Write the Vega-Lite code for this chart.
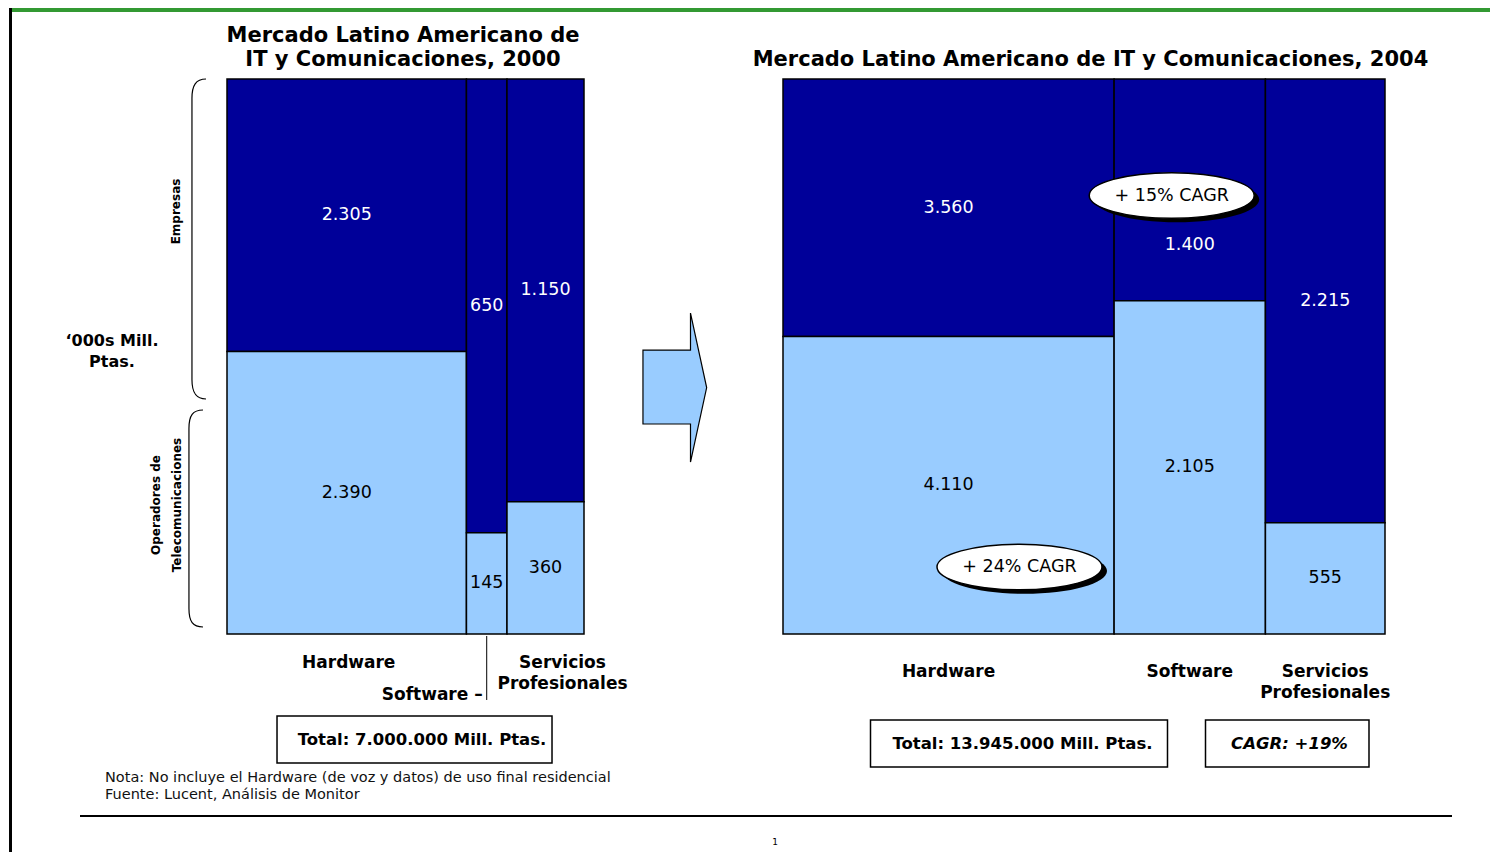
{
  "$schema": "https://vega.github.io/schema/vega-lite/v6.json",
  "background": "white",
  "autosize": {"type": "pad"},
  "padding": {"left": 9, "top": 8, "right": 0, "bottom": 0},
  "bounds": "flush",
  "spacing": 199,
  "config": {
    "view": {"stroke": null},
    "font": "DejaVu Sans",
    "locale": {"number": {"decimal": ",", "thousands": ".", "grouping": [3], "currency": ["", " €"]}}
  },
  "datasets": {
    "market": [
      {"year": 2000, "cat": "Hardware", "catOrder": 1, "seg": "Empresas", "segOrder": 2, "value": 2305},
      {"year": 2000, "cat": "Hardware", "catOrder": 1, "seg": "Operadores de Telecomunicaciones", "segOrder": 1, "value": 2390},
      {"year": 2000, "cat": "Software", "catOrder": 2, "seg": "Empresas", "segOrder": 2, "value": 650},
      {"year": 2000, "cat": "Software", "catOrder": 2, "seg": "Operadores de Telecomunicaciones", "segOrder": 1, "value": 145},
      {"year": 2000, "cat": "Servicios Profesionales", "catOrder": 3, "seg": "Empresas", "segOrder": 2, "value": 1150},
      {"year": 2000, "cat": "Servicios Profesionales", "catOrder": 3, "seg": "Operadores de Telecomunicaciones", "segOrder": 1, "value": 360},
      {"year": 2004, "cat": "Hardware", "catOrder": 1, "seg": "Empresas", "segOrder": 2, "value": 3560},
      {"year": 2004, "cat": "Hardware", "catOrder": 1, "seg": "Operadores de Telecomunicaciones", "segOrder": 1, "value": 4110},
      {"year": 2004, "cat": "Software", "catOrder": 2, "seg": "Empresas", "segOrder": 2, "value": 1400},
      {"year": 2004, "cat": "Software", "catOrder": 2, "seg": "Operadores de Telecomunicaciones", "segOrder": 1, "value": 2105},
      {"year": 2004, "cat": "Servicios Profesionales", "catOrder": 3, "seg": "Empresas", "segOrder": 2, "value": 2215},
      {"year": 2004, "cat": "Servicios Profesionales", "catOrder": 3, "seg": "Operadores de Telecomunicaciones", "segOrder": 1, "value": 555}
    ]
  },
  "hconcat": [
    {
      "width": 357,
      "height": 555,
      "layer": [
        {
          "data": {"name": "market"},
          "transform": [
            {"filter": "datum.year === 2000"},
            {"stack": "value", "groupby": [], "sort": [{"field": "catOrder", "order": "ascending"}, {"field": "segOrder", "order": "ascending"}], "offset": "normalize", "as": ["sx0", "sx1"]},
            {"joinaggregate": [{"op": "min", "field": "sx0", "as": "x0"}, {"op": "max", "field": "sx1", "as": "x1"}], "groupby": ["cat"]},
            {"stack": "value", "groupby": ["cat"], "sort": [{"field": "segOrder", "order": "ascending"}], "offset": "normalize", "as": ["y0", "y1"]},
            {"calculate": "(datum.x0 + datum.x1) / 2", "as": "xm"},
            {"calculate": "(datum.y0 + datum.y1) / 2", "as": "ym"}
          ],
          "layer": [
            {
              "mark": {"type": "rect", "stroke": "black", "strokeWidth": 1.5},
              "encoding": {
                "x": {"field": "x0", "type": "quantitative", "scale": {"domain": [0, 1], "nice": false, "zero": false},
                      "axis": {"values": [0, 0.2, 0.4, 0.6, 0.8, 1], "labels": false, "title": null, "grid": false, "tickSize": 4, "tickColor": "black", "domainColor": "black", "domainWidth": 2}},
                "x2": {"field": "x1"},
                "y": {"field": "y0", "type": "quantitative", "scale": {"domain": [0, 1], "nice": false, "zero": false},
                      "axis": {"values": [0, 0.2, 0.4, 0.6, 0.8, 1], "labels": false, "title": null, "grid": false, "tickSize": 4, "tickColor": "black", "domainColor": "black", "domainWidth": 1.5}},
                "y2": {"field": "y1"},
                "color": {"field": "seg", "type": "nominal", "scale": {"domain": ["Empresas", "Operadores de Telecomunicaciones"], "range": ["#000099", "#99CCFF"]}, "legend": null}
              }
            },
            {
              "mark": {"type": "text", "fontSize": 17.5, "font": "DejaVu Sans"},
              "encoding": {
                "x": {"field": "xm", "type": "quantitative", "axis": null},
                "y": {"field": "ym", "type": "quantitative", "axis": null},
                "text": {"field": "value", "type": "quantitative", "format": ","},
                "color": {"condition": {"test": "datum.seg === 'Empresas'", "value": "white"}, "value": "black"}
              }
            },
            {
              "transform": [{"filter": "datum.seg === 'Empresas' && datum.cat === 'Hardware'"}],
              "mark": {"type": "text", "fontSize": 17, "fontWeight": "bold", "font": "DejaVu Sans", "baseline": "top", "lineBreak": " ", "lineHeight": 21, "color": "black", "dx": 2},
              "encoding": {
                "x": {"field": "xm", "type": "quantitative", "axis": null},
                "y": {"datum": -0.0378, "type": "quantitative", "axis": null},
                "text": {"field": "cat", "type": "nominal"}
              }
            },
            {
              "transform": [{"filter": "datum.seg === 'Empresas' && datum.cat === 'Servicios Profesionales'"}],
              "mark": {"type": "text", "fontSize": 17, "fontWeight": "bold", "font": "DejaVu Sans", "baseline": "top", "lineBreak": " ", "lineHeight": 21, "color": "black", "dx": 17},
              "encoding": {
                "x": {"field": "xm", "type": "quantitative", "axis": null},
                "y": {"datum": -0.0378, "type": "quantitative", "axis": null},
                "text": {"field": "cat", "type": "nominal"}
              }
            },
            {
              "transform": [{"filter": "datum.seg === 'Empresas' && datum.cat === 'Software'"}],
              "mark": {"type": "text", "fontSize": 17, "fontWeight": "bold", "font": "DejaVu Sans", "align": "right", "baseline": "middle", "dx": -4, "color": "black", "text": "Software –"},
              "encoding": {
                "x": {"field": "xm", "type": "quantitative", "axis": null},
                "y": {"datum": -0.1099, "type": "quantitative", "axis": null}
              }
            },
            {
              "transform": [{"filter": "datum.seg === 'Empresas' && datum.cat === 'Software'"}],
              "mark": {"type": "rule", "color": "black", "strokeWidth": 1},
              "encoding": {
                "x": {"field": "xm", "type": "quantitative", "axis": null},
                "y": {"datum": -0.0036, "type": "quantitative", "axis": null},
                "y2": {"datum": -0.1189}
              }
            }
          ]
        },
        {
          "data": {"values": [{"k": 1}]},
          "layer": [
            {
              "mark": {"type": "rect", "color": "black"},
              "encoding": {
                "x": {"datum": -0.6106, "type": "quantitative", "axis": null}, "x2": {"datum": -0.60224},
                "y": {"datum": 1.1279, "type": "quantitative", "axis": null}, "y2": {"datum": -0.3927}
              }
            },
            {
              "mark": {"type": "rect", "color": "#339933"},
              "encoding": {
                "x": {"datum": -0.60224, "type": "quantitative", "axis": null}, "x2": {"datum": 3.5378},
                "y": {"datum": 1.1279, "type": "quantitative", "axis": null}, "y2": {"datum": 1.12072}
              }
            },
            {
              "mark": {"type": "rect", "color": "black"},
              "encoding": {
                "x": {"datum": -0.41176, "type": "quantitative", "axis": null}, "x2": {"datum": 3.43137},
                "y": {"datum": -0.32613, "type": "quantitative", "axis": null}, "y2": {"datum": -0.32973}
              }
            },
            {
              "mark": {"type": "text", "text": "1", "fontSize": 9, "font": "DejaVu Sans", "color": "black"},
              "encoding": {"x": {"datum": 1.53501, "type": "quantitative", "axis": null}, "y": {"datum": -0.37477, "type": "quantitative", "axis": null}}
            },
            {
              "mark": {"type": "text", "text": ["Nota: No incluye el Hardware (de voz y datos) de uso final residencial", "Fuente: Lucent, Análisis de Monitor"], "fontSize": 14.5, "font": "DejaVu Sans", "align": "left", "baseline": "middle", "lineHeight": 17, "color": "#111111"},
              "encoding": {"x": {"datum": -0.34174, "type": "quantitative", "axis": null}, "y": {"datum": -0.25946, "type": "quantitative", "axis": null}}
            },
            {
              "mark": {"type": "text", "text": ["Mercado Latino Americano de", "IT y Comunicaciones, 2000"], "fontSize": 21, "fontWeight": "bold", "font": "DejaVu Sans", "align": "center", "baseline": "middle", "lineHeight": 24, "color": "black"},
              "encoding": {"x": {"datum": 0.493, "type": "quantitative", "axis": null}, "y": {"datum": 1.07748, "type": "quantitative", "axis": null}}
            },
            {
              "mark": {"type": "text", "text": ["‘000s Mill.", "Ptas."], "fontSize": 16, "fontWeight": "bold", "font": "DejaVu Sans", "align": "center", "baseline": "middle", "lineHeight": 21, "color": "black"},
              "encoding": {"x": {"datum": -0.32213, "type": "quantitative", "axis": null}, "y": {"datum": 0.52793, "type": "quantitative", "axis": null}}
            },
            {
              "mark": {"type": "point", "shape": "M 0.044 -1 C -0.02 -1 -0.044 -0.96 -0.044 -0.88 L -0.044 0.88 C -0.044 0.96 -0.02 1 0.044 1", "size": 102400, "filled": false, "color": "black", "stroke": "black", "strokeWidth": 1.2, "opacity": 1},
              "encoding": {"x": {"datum": -0.07843, "type": "quantitative", "axis": null}, "y": {"datum": 0.71171, "type": "quantitative", "axis": null}}
            },
            {
              "mark": {"type": "point", "shape": "M 0.065 -1 C -0.03 -1 -0.065 -0.95 -0.065 -0.83 L -0.065 0.83 C -0.065 0.95 -0.03 1 0.065 1", "size": 47089, "filled": false, "color": "black", "stroke": "black", "strokeWidth": 1.2, "opacity": 1},
              "encoding": {"x": {"datum": -0.08683, "type": "quantitative", "axis": null}, "y": {"datum": 0.20811, "type": "quantitative", "axis": null}}
            },
            {
              "mark": {"type": "text", "text": "Empresas", "angle": 270, "fontSize": 12, "fontWeight": "bold", "font": "DejaVu Sans", "align": "center", "baseline": "middle", "color": "black"},
              "encoding": {"x": {"datum": -0.14146, "type": "quantitative", "axis": null}, "y": {"datum": 0.76126, "type": "quantitative", "axis": null}}
            },
            {
              "mark": {"type": "text", "text": ["Operadores de", "Telecomunicaciones"], "angle": 270, "fontSize": 12, "fontWeight": "bold", "font": "DejaVu Sans", "align": "center", "baseline": "middle", "lineHeight": 21, "color": "black"},
              "encoding": {"x": {"datum": -0.19818, "type": "quantitative", "axis": null}, "y": {"datum": 0.23243, "type": "quantitative", "axis": null}}
            },
            {
              "mark": {"type": "point", "shape": "M -0.43 -0.503 L 0.208 -0.503 L 0.208 -1 L 0.425 0 L 0.208 1 L 0.208 0.49 L -0.43 0.49 Z", "size": 22201, "filled": true, "fill": "#99CCFF", "stroke": "black", "strokeWidth": 1.2, "opacity": 1},
              "encoding": {"x": {"datum": 1.2549, "type": "quantitative", "axis": null}, "y": {"datum": 0.44414, "type": "quantitative", "axis": null}}
            },
            {
              "mark": {"type": "rect", "fill": "white", "stroke": "black", "strokeWidth": 1.5},
              "encoding": {
                "x": {"datum": 0.1401, "type": "quantitative", "axis": null}, "x2": {"datum": 0.9104},
                "y": {"datum": -0.1477, "type": "quantitative", "axis": null}, "y2": {"datum": -0.2324}
              }
            },
            {
              "mark": {"type": "text", "text": "Total: 7.000.000 Mill. Ptas.", "fontSize": 16.5, "fontWeight": "bold", "font": "DejaVu Sans", "align": "center", "baseline": "middle", "color": "black"},
              "encoding": {"x": {"datum": 0.54622, "type": "quantitative", "axis": null}, "y": {"datum": -0.19099, "type": "quantitative", "axis": null}}
            }
          ]
        }
      ]
    },
    {
      "width": 602,
      "height": 555,
      "layer": [
        {
          "data": {"name": "market"},
          "transform": [
            {"filter": "datum.year === 2004"},
            {"stack": "value", "groupby": [], "sort": [{"field": "catOrder", "order": "ascending"}, {"field": "segOrder", "order": "ascending"}], "offset": "normalize", "as": ["sx0", "sx1"]},
            {"joinaggregate": [{"op": "min", "field": "sx0", "as": "x0"}, {"op": "max", "field": "sx1", "as": "x1"}], "groupby": ["cat"]},
            {"stack": "value", "groupby": ["cat"], "sort": [{"field": "segOrder", "order": "ascending"}], "offset": "normalize", "as": ["y0", "y1"]},
            {"calculate": "(datum.x0 + datum.x1) / 2", "as": "xm"},
            {"calculate": "(datum.y0 + datum.y1) / 2", "as": "ym"},
            {"calculate": "datum.y0 + (datum.y1 - datum.y0) * 0.25", "as": "ylow"}
          ],
          "layer": [
            {
              "mark": {"type": "rect", "stroke": "black", "strokeWidth": 1.5},
              "encoding": {
                "x": {"field": "x0", "type": "quantitative", "scale": {"domain": [0, 1], "nice": false, "zero": false},
                      "axis": {"values": [0, 0.2, 0.4, 0.6, 0.8, 1], "labels": false, "title": null, "grid": false, "tickSize": 4, "tickColor": "black", "domainColor": "black", "domainWidth": 2}},
                "x2": {"field": "x1"},
                "y": {"field": "y0", "type": "quantitative", "scale": {"domain": [0, 1], "nice": false, "zero": false},
                      "axis": {"values": [0, 0.2, 0.4, 0.6, 0.8, 1], "labels": false, "title": null, "grid": false, "tickSize": 4, "tickColor": "black", "domainColor": "black", "domainWidth": 1.5}},
                "y2": {"field": "y1"},
                "color": {"field": "seg", "type": "nominal", "scale": {"domain": ["Empresas", "Operadores de Telecomunicaciones"], "range": ["#000099", "#99CCFF"]}, "legend": null}
              }
            },
            {
              "transform": [{"filter": "!(datum.cat === 'Software' && datum.seg === 'Empresas')"}],
              "mark": {"type": "text", "fontSize": 17.5, "font": "DejaVu Sans"},
              "encoding": {
                "x": {"field": "xm", "type": "quantitative", "axis": null},
                "y": {"field": "ym", "type": "quantitative", "axis": null},
                "text": {"field": "value", "type": "quantitative", "format": ","},
                "color": {"condition": {"test": "datum.seg === 'Empresas'", "value": "white"}, "value": "black"}
              }
            },
            {
              "transform": [{"filter": "datum.cat === 'Software' && datum.seg === 'Empresas'"}],
              "mark": {"type": "text", "fontSize": 17.5, "font": "DejaVu Sans", "color": "white"},
              "encoding": {
                "x": {"field": "xm", "type": "quantitative", "axis": null},
                "y": {"field": "ylow", "type": "quantitative", "axis": null},
                "text": {"field": "value", "type": "quantitative", "format": ","}
              }
            },
            {
              "transform": [{"filter": "datum.seg === 'Empresas'"}],
              "mark": {"type": "text", "fontSize": 17, "fontWeight": "bold", "font": "DejaVu Sans", "baseline": "top", "lineBreak": " ", "lineHeight": 21, "color": "black"},
              "encoding": {
                "x": {"field": "xm", "type": "quantitative", "axis": null},
                "y": {"datum": -0.05405, "type": "quantitative", "axis": null},
                "text": {"field": "cat", "type": "nominal"}
              }
            }
          ]
        },
        {
          "data": {"values": [{"k": 1}]},
          "layer": [
            {
              "mark": {"type": "text", "text": "Mercado Latino Americano de IT y Comunicaciones, 2004", "fontSize": 21, "fontWeight": "bold", "font": "DejaVu Sans", "align": "center", "baseline": "middle", "color": "black"},
              "encoding": {"x": {"datum": 0.5108, "type": "quantitative", "axis": null}, "y": {"datum": 1.0342, "type": "quantitative", "axis": null}}
            },
            {
              "mark": {"type": "point", "shape": "M -1 0 C -1 -0.1524 -0.5523 -0.276 0 -0.276 C 0.5523 -0.276 1 -0.1524 1 0 C 1 0.1524 0.5523 0.276 0 0.276 C -0.5523 0.276 -1 0.1524 -1 0 Z", "size": 27225, "filled": true, "fill": "black", "opacity": 1, "xOffset": 5, "yOffset": 4},
              "encoding": {"x": {"datum": 0.64568, "type": "quantitative", "axis": null}, "y": {"datum": 0.79009, "type": "quantitative", "axis": null}}
            },
            {
              "mark": {"type": "point", "shape": "M -1 0 C -1 -0.1524 -0.5523 -0.276 0 -0.276 C 0.5523 -0.276 1 -0.1524 1 0 C 1 0.1524 0.5523 0.276 0 0.276 C -0.5523 0.276 -1 0.1524 -1 0 Z", "size": 27225, "filled": true, "fill": "white", "stroke": "black", "strokeWidth": 1.5, "opacity": 1},
              "encoding": {"x": {"datum": 0.64568, "type": "quantitative", "axis": null}, "y": {"datum": 0.79009, "type": "quantitative", "axis": null}}
            },
            {
              "mark": {"type": "text", "text": "+ 15% CAGR", "fontSize": 17.5, "font": "DejaVu Sans", "align": "center", "baseline": "middle", "color": "black"},
              "encoding": {"x": {"datum": 0.64568, "type": "quantitative", "axis": null}, "y": {"datum": 0.79009, "type": "quantitative", "axis": null}}
            },
            {
              "mark": {"type": "point", "shape": "M -1 0 C -1 -0.1524 -0.5523 -0.276 0 -0.276 C 0.5523 -0.276 1 -0.1524 1 0 C 1 0.1524 0.5523 0.276 0 0.276 C -0.5523 0.276 -1 0.1524 -1 0 Z", "size": 27225, "filled": true, "fill": "black", "opacity": 1, "xOffset": 5, "yOffset": 4},
              "encoding": {"x": {"datum": 0.39286, "type": "quantitative", "axis": null}, "y": {"datum": 0.12072, "type": "quantitative", "axis": null}}
            },
            {
              "mark": {"type": "point", "shape": "M -1 0 C -1 -0.1524 -0.5523 -0.276 0 -0.276 C 0.5523 -0.276 1 -0.1524 1 0 C 1 0.1524 0.5523 0.276 0 0.276 C -0.5523 0.276 -1 0.1524 -1 0 Z", "size": 27225, "filled": true, "fill": "white", "stroke": "black", "strokeWidth": 1.5, "opacity": 1},
              "encoding": {"x": {"datum": 0.39286, "type": "quantitative", "axis": null}, "y": {"datum": 0.12072, "type": "quantitative", "axis": null}}
            },
            {
              "mark": {"type": "text", "text": "+ 24% CAGR", "fontSize": 17.5, "font": "DejaVu Sans", "align": "center", "baseline": "middle", "color": "black"},
              "encoding": {"x": {"datum": 0.39286, "type": "quantitative", "axis": null}, "y": {"datum": 0.12072, "type": "quantitative", "axis": null}}
            },
            {
              "mark": {"type": "rect", "fill": "white", "stroke": "black", "strokeWidth": 1.5},
              "encoding": {
                "x": {"datum": 0.14535, "type": "quantitative", "axis": null}, "x2": {"datum": 0.6387},
                "y": {"datum": -0.15495, "type": "quantitative", "axis": null}, "y2": {"datum": -0.23964}
              }
            },
            {
              "mark": {"type": "text", "text": "Total: 13.945.000 Mill. Ptas.", "fontSize": 16.5, "fontWeight": "bold", "font": "DejaVu Sans", "align": "center", "baseline": "middle", "color": "black"},
              "encoding": {"x": {"datum": 0.39784, "type": "quantitative", "axis": null}, "y": {"datum": -0.19874, "type": "quantitative", "axis": null}}
            },
            {
              "mark": {"type": "rect", "fill": "white", "stroke": "black", "strokeWidth": 1.5},
              "encoding": {
                "x": {"datum": 0.70183, "type": "quantitative", "axis": null}, "x2": {"datum": 0.97342},
                "y": {"datum": -0.15495, "type": "quantitative", "axis": null}, "y2": {"datum": -0.23964}
              }
            },
            {
              "mark": {"type": "text", "text": "CAGR: +19%", "fontSize": 16.5, "fontWeight": "bold", "fontStyle": "italic", "font": "DejaVu Sans", "align": "center", "baseline": "middle", "color": "black"},
              "encoding": {"x": {"datum": 0.84136, "type": "quantitative", "axis": null}, "y": {"datum": -0.19874, "type": "quantitative", "axis": null}}
            }
          ]
        }
      ]
    }
  ]
}
